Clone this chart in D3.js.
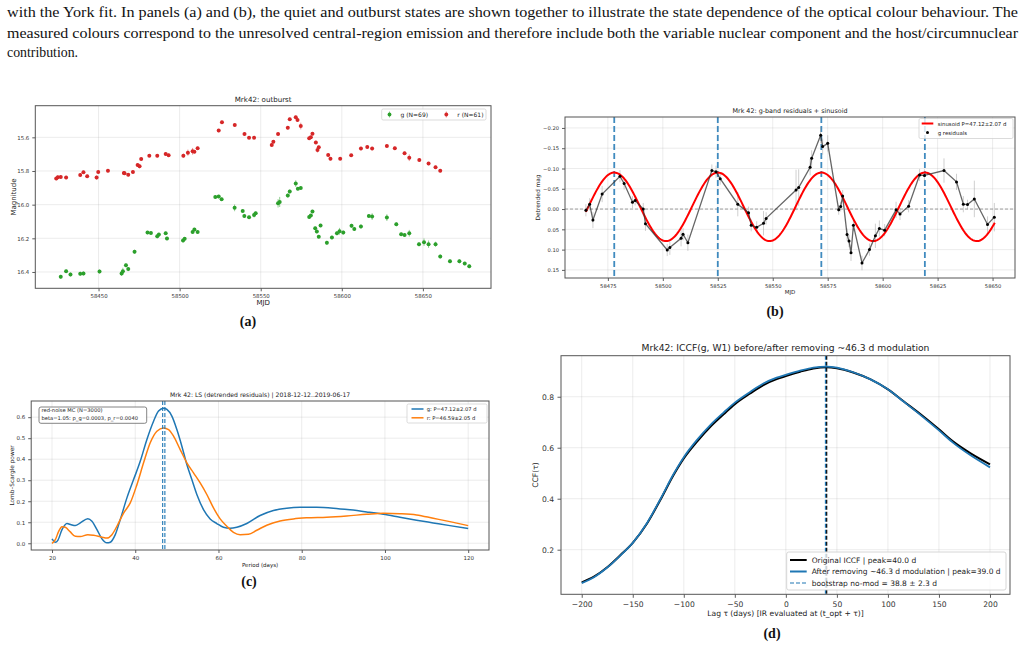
<!DOCTYPE html>
<html><head><meta charset="utf-8">
<script src="https://cdn.jsdelivr.net/npm/d3@7"></script>
<style>body{margin:0;background:#fff}svg{display:block}</style>
</head><body>
<svg id="fig" width="1025" height="647"></svg>
<script>
// ---------------- DATA ----------------
// Panel (a): light curves
const gMJD = [58426.7,58430.0,58432.7,58438.7,58440.7,58450.6,58464.2,58465.0,58466.9,58468.3,58472.2,58480.2,58482.3,58486.2,58487.2,58491.4,58492.2,58502.1,58503.1,58508.0,58509.1,58511.1,58522.0,58524.1,58525.9,58533.9,58538.9,58539.9,58542.8,58545.9,58546.9,58560.7,58561.7,58566.7,58567.9,58571.6,58572.9,58574.7,58579.9,58580.9,58581.9,58583.6,58584.6,58585.8,58586.9,58590.8,58593.9,58597.0,58598.6,58600.9,58606.0,58607.7,58611.8,58616.7,58618.7,58627.8,58633.6,58636.6,58638.7,58641.6,58647.6,58650.7,58653.5,58657.8,58660.7,58666.7,58672.5,58675.8,58678.6];
const gMag = [16.429,16.395,16.415,16.411,16.409,16.397,16.409,16.395,16.360,16.383,16.280,16.166,16.168,16.188,16.178,16.170,16.201,16.213,16.203,16.162,16.148,16.162,15.954,15.952,15.968,16.019,16.037,16.067,16.075,16.061,16.051,15.992,15.984,15.946,15.922,15.875,15.905,15.901,16.073,16.065,16.041,16.140,16.160,16.190,16.124,16.227,16.195,16.170,16.158,16.166,16.126,16.144,16.130,16.067,16.071,16.077,16.116,16.176,16.180,16.170,16.235,16.223,16.235,16.235,16.308,16.336,16.336,16.350,16.366];
const gErr = [0.012,0.010,0.012,0.012,0.012,0.012,0.015,0.020,0.012,0.012,0.012,0.010,0.010,0.012,0.010,0.010,0.010,0.012,0.010,0.010,0.010,0.010,0.010,0.010,0.010,0.020,0.010,0.012,0.010,0.015,0.010,0.025,0.030,0.012,0.012,0.020,0.010,0.010,0.010,0.010,0.010,0.010,0.010,0.010,0.010,0.012,0.010,0.012,0.020,0.012,0.012,0.012,0.012,0.010,0.020,0.020,0.012,0.010,0.010,0.020,0.012,0.022,0.022,0.015,0.012,0.012,0.012,0.010,0.012];
const rMJD = [58423.9,58424.9,58426.7,58430.0,58438.7,58440.7,58443.0,58448.8,58449.8,58455.8,58465.6,58466.0,58468.3,58471.2,58474.1,58475.3,58476.3,58481.3,58486.2,58491.4,58493.2,58502.3,58505.1,58508.0,58509.1,58511.1,58524.1,58526.1,58534.0,58540.0,58542.8,58545.9,58556.8,58557.8,58560.7,58566.7,58567.9,58571.6,58572.7,58574.7,58579.9,58580.9,58581.9,58584.0,58585.0,58585.8,58591.6,58593.0,58599.0,58605.8,58611.8,58615.7,58618.7,58627.8,58632.7,58638.7,58641.6,58647.8,58653.5,58657.8,58660.7];
const rMag = [15.845,15.837,15.835,15.839,15.824,15.808,15.831,15.839,15.806,15.798,15.812,15.814,15.822,15.806,15.764,15.772,15.729,15.709,15.709,15.699,15.707,15.709,15.691,15.683,15.685,15.665,15.560,15.511,15.527,15.580,15.602,15.602,15.645,15.626,15.580,15.543,15.493,15.481,15.497,15.533,15.606,15.600,15.578,15.630,15.675,15.659,15.705,15.727,15.727,15.707,15.667,15.657,15.667,15.651,15.665,15.695,15.721,15.735,15.756,15.778,15.798];
const rErr = [0.010,0.012,0.010,0.010,0.012,0.010,0.010,0.012,0.010,0.010,0.012,0.010,0.010,0.010,0.010,0.012,0.010,0.008,0.010,0.012,0.010,0.012,0.018,0.020,0.010,0.010,0.010,0.010,0.010,0.010,0.008,0.008,0.010,0.010,0.010,0.010,0.010,0.010,0.010,0.020,0.010,0.010,0.010,0.010,0.015,0.010,0.010,0.010,0.008,0.008,0.010,0.010,0.010,0.010,0.010,0.010,0.020,0.010,0.010,0.010,0.010];
const aTicksX = [58450,58500,58550,58600,58650];
const aTicksY = [15.6,15.8,16.0,16.2,16.4];

// Panel (b): g residuals + sinusoid
const resMJD = [58465.0,58466.7,58468.2,58472.4,58480.5,58482.4,58486.2,58487.4,58491.1,58492.1,58502.0,58503.2,58508.3,58509.2,58511.4,58522.3,58524.2,58526.1,58534.1,58539.0,58540.2,58542.7,58545.8,58547.0,58560.6,58561.8,58567.0,58567.7,58571.8,58572.7,58575.0,58580.0,58580.9,58581.8,58583.8,58584.7,58585.6,58586.7,58590.6,58594.0,58596.7,58598.5,58600.9,58606.1,58607.9,58611.8,58616.8,58619.0,58627.9,58633.6,58636.7,58638.6,58641.7,58647.7,58650.8];
const resVal = [0.003,-0.012,0.027,-0.037,-0.081,-0.063,-0.017,-0.021,0.000,0.036,0.101,0.095,0.072,0.062,0.083,-0.095,-0.092,-0.075,-0.012,0.009,0.040,0.045,0.035,0.023,-0.047,-0.053,-0.103,-0.125,-0.182,-0.154,-0.162,0.002,-0.006,-0.032,0.063,0.079,0.108,0.040,0.133,0.100,0.066,0.048,0.052,0.002,0.012,-0.007,-0.084,-0.083,-0.095,-0.067,-0.012,-0.011,-0.025,0.038,0.020];
const resErr = [0.015,0.015,0.020,0.020,0.015,0.015,0.015,0.012,0.015,0.018,0.015,0.018,0.020,0.015,0.020,0.015,0.015,0.015,0.030,0.015,0.015,0.015,0.030,0.015,0.050,0.045,0.020,0.020,0.020,0.020,0.020,0.012,0.012,0.015,0.015,0.015,0.020,0.015,0.018,0.015,0.030,0.020,0.015,0.020,0.015,0.015,0.015,0.015,0.030,0.020,0.020,0.012,0.045,0.020,0.035];
const sinPeriod = 47.12, sinAmp = 0.0845, sinOffset = -0.0055, sinEpoch = 58477.9, sinStart = 58465.0, sinEnd = 58651.0;
const peakMJD = [58477.9, 58525.0, 58572.1, 58619.2];
const bTicksX = [58475,58500,58525,58550,58575,58600,58625,58650];
const bTicksY = [-0.20,-0.15,-0.10,-0.05,0.00,0.05,0.10,0.15];

// Panel (c): Lomb-Scargle periodograms
const lsPeriodG = [20,20.8,21.4,22.4,23.6,24.6,25.6,26.8,28.6,29.6,30.8,32,33.2,34,35.2,36.4,38,39.6,41.2,42.8,44.4,45.6,46.8,47.6,48.8,50,51.2,52.4,53.6,54.8,56.4,58,59.6,61.2,62.8,64.4,66.8,70,73.2,76.4,79.6,83.6,87.6,91.6,95.6,99.6,103.6,107.6,111.6,115.6,120];
const lsPowerG = [0.021,0.005,0.014,0.065,0.094,0.088,0.084,0.097,0.117,0.105,0.065,0.021,0.002,0.005,0.041,0.113,0.216,0.303,0.390,0.494,0.581,0.629,0.643,0.637,0.605,0.541,0.462,0.375,0.303,0.232,0.160,0.116,0.094,0.076,0.071,0.076,0.094,0.132,0.156,0.167,0.171,0.171,0.167,0.159,0.149,0.138,0.124,0.110,0.097,0.084,0.070];
const lsPeriodR = [20,20.8,21.6,22.4,23.2,24.4,25.6,26.8,28.6,30,32,33.2,34.4,35.6,37.2,38.8,40.4,42,43.6,45.2,46.8,48,49.2,50.8,52.4,54,55.6,57.2,58.8,60.4,62,63.6,65.2,67.2,69.2,71.6,74.8,78,81.2,86,90.8,95.6,99.6,103.6,107.6,111.6,115.6,120];
const lsPowerR = [0.000,0.017,0.057,0.079,0.076,0.054,0.033,0.032,0.041,0.038,0.029,0.025,0.041,0.081,0.144,0.192,0.279,0.383,0.478,0.533,0.549,0.541,0.510,0.446,0.383,0.335,0.287,0.232,0.168,0.116,0.081,0.052,0.041,0.043,0.062,0.086,0.106,0.116,0.121,0.124,0.130,0.138,0.143,0.141,0.135,0.119,0.103,0.084];
const bestPeriods = [47.12, 46.59];
const cTicksX = [20,40,60,80,100,120];
const cTicksY = [0.0,0.1,0.2,0.3,0.4,0.5,0.6];

// Panel (d): ICCF
const ccfLag = [-200,-188,-175,-162,-150,-136,-123,-110,-100,-87,-74,-61,-50,-35,-22,-9,0,14,27,40,50,66,83,100,115,132,150,164,181,200];
const ccfOrig = [0.072,0.094,0.131,0.179,0.227,0.303,0.395,0.493,0.558,0.624,0.682,0.731,0.771,0.813,0.846,0.869,0.881,0.898,0.911,0.916,0.912,0.895,0.868,0.829,0.783,0.731,0.672,0.624,0.578,0.535];
const ccfMod = [0.069,0.092,0.130,0.178,0.227,0.305,0.398,0.497,0.563,0.631,0.689,0.738,0.777,0.819,0.852,0.875,0.886,0.902,0.914,0.918,0.914,0.896,0.868,0.829,0.782,0.728,0.668,0.619,0.570,0.523];
const peakOrig = 40.0, bootLag = 38.8;
const dTicksX = [-200,-150,-100,-50,0,50,100,150,200];
const dTicksY = [0.2,0.4,0.6,0.8];

// ---------------- DRAWING ----------------
const MPL = "'DejaVu Sans', Verdana, sans-serif";
const SERIF = "'Liberation Serif', 'Times New Roman', serif";
const C0 = "#1f77b4", C1 = "#ff7f0e", C2 = "#2ca02c", C3 = "#d62728";
const svg = d3.select('#fig');
svg.append('rect').attr('width',1025).attr('height',647).attr('fill','#fff');

// Body text
const bodyLines = [
 "with the York fit. In panels (a) and (b), the quiet and outburst states are shown together to illustrate the state dependence of the optical colour behaviour. The",
 "measured colours correspond to the unresolved central-region emission and therefore include both the variable nuclear component and the host/circumnuclear",
 "contribution."];
bodyLines.forEach((t,i)=>{
  const el = svg.append('text').attr('x',7).attr('y',[17,38,57][i]).text(t)
    .attr('font-family',SERIF).attr('font-size',14.5).attr('fill','#111');
  if(i<2) el.attr('textLength',1011).attr('lengthAdjust','spacingAndGlyphs');
  else el.attr('textLength',71).attr('lengthAdjust','spacingAndGlyphs');
});

let clipN = 0;
function makeAxes(o){
  const x = d3.scaleLinear().domain(o.xd).range([o.x0,o.x1]);
  const y = d3.scaleLinear().domain(o.yd).range([o.y1,o.y0]);
  const g = svg.append('g');
  const id = 'clip'+(clipN++);
  svg.append('clipPath').attr('id',id).append('rect')
    .attr('x',o.x0).attr('y',o.y0).attr('width',o.x1-o.x0).attr('height',o.y1-o.y0);
  const grid = g.append('g').attr('stroke','#b0b0b0').attr('stroke-opacity',0.3).attr('stroke-width',0.8);
  o.xt.forEach(v=>grid.append('line').attr('x1',x(v)).attr('x2',x(v)).attr('y1',o.y0).attr('y2',o.y1));
  o.yt.forEach(v=>grid.append('line').attr('y1',y(v)).attr('y2',y(v)).attr('x1',o.x0).attr('x2',o.x1));
  const gx = g.append('g').attr('transform',`translate(0,${o.y1})`)
    .call(d3.axisBottom(x).tickValues(o.xt).tickFormat(d3.format(o.xf)).tickSize(o.ts).tickPadding(o.tp));
  const gy = g.append('g').attr('transform',`translate(${o.x0},0)`)
    .call(d3.axisLeft(y).tickValues(o.yt).tickFormat(d3.format(o.yf)).tickSize(o.ts).tickPadding(o.tp));
  [gx,gy].forEach(a=>{
    a.select('.domain').remove();
    a.selectAll('line').attr('stroke','#333').attr('stroke-width',0.8);
    a.selectAll('text').attr('font-family',MPL).attr('font-size',o.tfs).attr('fill','#333');
  });
  const plot = svg.append('g').attr('clip-path',`url(#${id})`);
  const front = svg.append('g');
  front.append('rect').attr('x',o.x0).attr('y',o.y0).attr('width',o.x1-o.x0).attr('height',o.y1-o.y0)
    .attr('fill','none').attr('stroke','#555').attr('stroke-width',1);
  const cx=(o.x0+o.x1)/2, cy=(o.y0+o.y1)/2;
  front.append('text').attr('x',cx).attr('y',o.titleY).attr('text-anchor','middle')
    .attr('font-family',MPL).attr('font-size',o.titleFs).attr('fill','#222').text(o.title);
  front.append('text').attr('x',cx).attr('y',o.xlY).attr('text-anchor','middle')
    .attr('font-family',MPL).attr('font-size',o.lfs).attr('fill','#222').text(o.xl);
  front.append('text').attr('transform',`translate(${o.ylX},${cy}) rotate(-90)`).attr('text-anchor','middle')
    .attr('font-family',MPL).attr('font-size',o.ylfs||o.lfs).attr('fill','#222').text(o.yl);
  svg.append('text').attr('x',o.capX).attr('y',o.capY).attr('text-anchor','middle')
    .attr('font-family',SERIF).attr('font-weight','bold').attr('font-size',14).attr('fill','#111').text(o.cap);
  return {x,y,plot,front};
}

// ---- Panel (a)
{
  const A = makeAxes({x0:35.3,x1:491,y0:105.7,y1:288.3,xd:[58411,58692],yd:[16.497,15.412],
    xt:aTicksX,yt:aTicksY,xf:'d',yf:'.1f',ts:3,tp:3,tfs:5.4,
    title:'Mrk42: outburst',titleY:102,titleFs:7.1,xl:'MJD',xlY:305,yl:'Magnitude',ylX:16,lfs:7,
    cap:'(a)',capX:248,capY:326});
  const draw = (T,M,E,col)=>{
    A.plot.append('g').selectAll('line').data(T).join('line')
      .attr('x1',(d,i)=>A.x(d)).attr('x2',(d,i)=>A.x(d))
      .attr('y1',(d,i)=>A.y(M[i]-E[i])).attr('y2',(d,i)=>A.y(M[i]+E[i]))
      .attr('stroke',col).attr('stroke-opacity',0.5).attr('stroke-width',1);
    A.plot.append('g').selectAll('circle').data(T).join('circle')
      .attr('cx',d=>A.x(d)).attr('cy',(d,i)=>A.y(M[i])).attr('r',2).attr('fill',col);
  };
  draw(gMJD,gMag,gErr,C2);
  draw(rMJD,rMag,rErr,C3);
  const L = A.front.append('g');
  L.append('rect').attr('x',381.7).attr('y',109).attr('width',104.3).attr('height',11).attr('rx',1.5)
    .attr('fill','#fff').attr('fill-opacity',0.8).attr('stroke','#ccc').attr('stroke-width',0.7);
  [[389.5,'g (N=69)',C2],[446.3,'r (N=61)',C3]].forEach(([mx,t,c])=>{
    L.append('line').attr('x1',mx).attr('x2',mx).attr('y1',111.5).attr('y2',117.5).attr('stroke',c).attr('stroke-opacity',0.5);
    L.append('circle').attr('cx',mx).attr('cy',114.5).attr('r',1.9).attr('fill',c);
    L.append('text').attr('x',mx+11).attr('y',116.7).attr('font-family',MPL).attr('font-size',6).attr('fill','#222').text(t);
  });
}

// ---- Panel (b)
{
  const B = makeAxes({x0:565,x1:1015,y0:117,y1:278,xd:[58455.5,58660.2],yd:[0.170,-0.227],
    xt:bTicksX,yt:bTicksY,xf:'d',yf:'.2f',ts:3,tp:3,tfs:5.2,
    title:'Mrk 42: g-band residuals + sinusoid',titleY:112.5,titleFs:6.4,xl:'MJD',xlY:293.5,yl:'Detrended mag',ylX:540,lfs:5.5,ylfs:5.9,
    cap:'(b)',capX:775,capY:316});
  B.plot.append('line').attr('x1',565).attr('x2',1015).attr('y1',B.y(0)).attr('y2',B.y(0))
    .attr('stroke','#888').attr('stroke-width',0.8).attr('stroke-dasharray','3,2');
  B.plot.append('g').selectAll('line').data(peakMJD).join('line')
    .attr('x1',d=>B.x(d)).attr('x2',d=>B.x(d)).attr('y1',117).attr('y2',278)
    .attr('stroke',C0).attr('stroke-opacity',0.85).attr('stroke-width',1.8).attr('stroke-dasharray','6,3');
  B.plot.append('g').selectAll('line').data(resMJD).join('line')
    .attr('x1',d=>B.x(d)).attr('x2',d=>B.x(d))
    .attr('y1',(d,i)=>B.y(resVal[i]-resErr[i])).attr('y2',(d,i)=>B.y(resVal[i]+resErr[i]))
    .attr('stroke','#999').attr('stroke-opacity',0.6).attr('stroke-width',0.8);
  const sinT = d3.range(sinStart, sinEnd+0.01, 0.5);
  B.plot.append('path').datum(sinT)
    .attr('d',d3.line().x(t=>B.x(t)).y(t=>B.y(sinOffset - sinAmp*Math.cos(2*Math.PI*(t-sinEpoch)/sinPeriod))))
    .attr('fill','none').attr('stroke','#ff0000').attr('stroke-width',2);
  B.plot.append('path').datum(resMJD)
    .attr('d',d3.line().x(d=>B.x(d)).y((d,i)=>B.y(resVal[i])))
    .attr('fill','none').attr('stroke','#333').attr('stroke-opacity',0.75).attr('stroke-width',1.3);
  B.plot.append('g').selectAll('circle').data(resMJD).join('circle')
    .attr('cx',d=>B.x(d)).attr('cy',(d,i)=>B.y(resVal[i])).attr('r',1.5).attr('fill','#000');
  const L = B.front.append('g');
  L.append('rect').attr('x',919).attr('y',118.5).attr('width',94).attr('height',20).attr('rx',1.5)
    .attr('fill','#fff').attr('fill-opacity',0.8).attr('stroke','#ccc').attr('stroke-width',0.7);
  L.append('line').attr('x1',921.7).attr('x2',933.3).attr('y1',123.5).attr('y2',123.5).attr('stroke','#ff0000').attr('stroke-width',2);
  L.append('circle').attr('cx',927.5).attr('cy',132.5).attr('r',1.5).attr('fill','#000');
  L.append('text').attr('x',937.7).attr('y',125.5).attr('font-family',MPL).attr('font-size',5.4).attr('fill','#222').text('sinusoid P=47.12±2.07 d');
  L.append('text').attr('x',937.7).attr('y',134.5).attr('font-family',MPL).attr('font-size',5.4).attr('fill','#222').text('g residuals');
}

// ---- Panel (c)
{
  const Cc = makeAxes({x0:31.2,x1:489,y0:401,y1:550,xd:[15,125],yd:[-0.032,0.677],
    xt:cTicksX,yt:cTicksY,xf:'d',yf:'.1f',ts:3,tp:3,tfs:5.5,
    title:'Mrk 42: LS (detrended residuals) | 2018-12-12..2019-06-17',titleY:396.5,titleFs:6.1,xl:'Period (days)',xlY:566.5,yl:'Lomb–Scargle power',ylX:14,lfs:5.5,ylfs:5.8,
    cap:'(c)',capX:249,capY:586});
  const ln = (P,W)=>d3.line().curve(d3.curveMonotoneX).x((d,i)=>Cc.x(P[i])).y(d=>Cc.y(d))(W);
  Cc.plot.append('path').attr('d',ln(lsPeriodG,lsPowerG)).attr('fill','none').attr('stroke',C0).attr('stroke-width',1.5);
  Cc.plot.append('path').attr('d',ln(lsPeriodR,lsPowerR)).attr('fill','none').attr('stroke',C1).attr('stroke-width',1.5);
  Cc.plot.append('g').selectAll('line').data(bestPeriods).join('line')
    .attr('x1',d=>Cc.x(d)).attr('x2',d=>Cc.x(d)).attr('y1',401).attr('y2',550)
    .attr('stroke',C0).attr('stroke-width',1.1).attr('stroke-dasharray','4,2');
  const L = Cc.front.append('g');
  L.append('rect').attr('x',407).attr('y',404).attr('width',80).attr('height',19).attr('rx',1.5)
    .attr('fill','#fff').attr('fill-opacity',0.8).attr('stroke','#ccc').attr('stroke-width',0.7);
  [[409,'g: P=47.12±2.07 d',C0],[417.8,'r: P=46.59±2.05 d',C1]].forEach(([yy,t,c])=>{
    L.append('line').attr('x1',411.5).attr('x2',423.5).attr('y1',yy).attr('y2',yy).attr('stroke',c).attr('stroke-width',1.5);
    L.append('text').attr('x',426.7).attr('y',yy+1.9).attr('font-family',MPL).attr('font-size',5.2).attr('fill','#222').text(t);
  });
  const T = Cc.front.append('g');
  T.append('rect').attr('x',39).attr('y',407).attr('width',107.7).attr('height',16.3).attr('rx',2)
    .attr('fill','#fff').attr('fill-opacity',0.85).attr('stroke','#666').attr('stroke-width',0.8);
  T.append('text').attr('x',41.5).attr('y',412).attr('font-family',MPL).attr('font-size',5.2).attr('fill','#222').text('red-noise MC (N=3000)');
  T.append('text').attr('x',41.5).attr('y',420.3).attr('font-family',MPL).attr('font-size',5.2).attr('fill','#222').text('beta=1.05: p_g=0.0003, p_r=0.0040');
}

// ---- Panel (d)
{
  const D = makeAxes({x0:561,x1:1010,y0:355.7,y1:594.3,xd:[-220.3,219.6],yd:[0.025,0.961],
    xt:dTicksX,yt:dTicksY,xf:'d',yf:'.1f',ts:3.5,tp:3.5,tfs:7.6,
    title:'Mrk42: ICCF(g, W1) before/after removing ~46.3 d modulation',titleY:350.5,titleFs:9.2,xl:'Lag τ (days)  [IR evaluated at (t_opt + τ)]',xlY:616,yl:'CCF(τ)',ylX:538,lfs:7.6,
    cap:'(d)',capX:772,capY:638});
  const ln = d3.line().curve(d3.curveMonotoneX).x((d,i)=>D.x(ccfLag[i])).y(d=>D.y(d));
  D.plot.append('line').attr('x1',D.x(peakOrig)).attr('x2',D.x(peakOrig)).attr('y1',355.7).attr('y2',594.3)
    .attr('stroke','#000').attr('stroke-width',1.2).attr('stroke-dasharray','4,2');
  D.plot.append('line').attr('x1',D.x(bootLag)).attr('x2',D.x(bootLag)).attr('y1',355.7).attr('y2',594.3)
    .attr('stroke',C0).attr('stroke-width',1.2).attr('stroke-dasharray','4,2');
  D.plot.append('path').attr('d',ln(ccfOrig)).attr('fill','none').attr('stroke','#000').attr('stroke-width',2);
  D.plot.append('path').attr('d',ln(ccfMod)).attr('fill','none').attr('stroke',C0).attr('stroke-width',1.8);
  const L = D.front.append('g');
  L.append('rect').attr('x',786.7).attr('y',552).attr('width',219.3).attr('height',38).attr('rx',2)
    .attr('fill','#fff').attr('fill-opacity',0.8).attr('stroke','#ccc').attr('stroke-width',0.8);
  [[560,'Original ICCF | peak=40.0 d','#000',null],[571.5,'After removing ~46.3 d modulation | peak=39.0 d',C0,null],[583,'bootstrap no-mod = 38.8 ± 2.3 d',C0,'4,2']].forEach(([yy,t,c,da])=>{
    const l = L.append('line').attr('x1',790).attr('x2',806.7).attr('y1',yy).attr('y2',yy).attr('stroke',c).attr('stroke-width',da?1.2:2);
    if(da) l.attr('stroke-dasharray',da);
    L.append('text').attr('x',811.7).attr('y',yy+2.6).attr('font-family',MPL).attr('font-size',7.5).attr('fill','#222').text(t);
  });
}
</script>
</body></html>
